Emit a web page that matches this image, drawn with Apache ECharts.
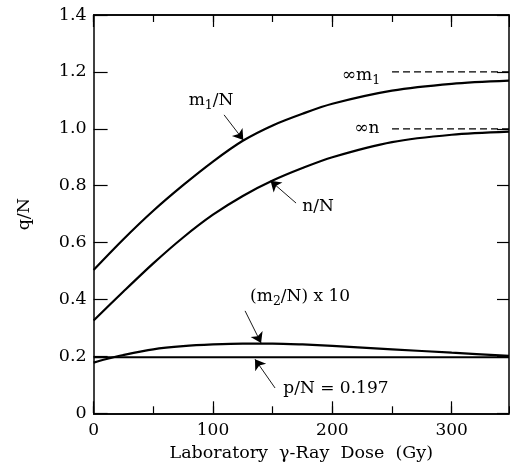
<!DOCTYPE html>
<html><head><meta charset="utf-8">
<script src="https://cdn.jsdelivr.net/npm/echarts@6/dist/echarts.min.js"></script>
<style>html,body{margin:0;padding:0;background:#fff}#c{width:510px;height:473px}</style>
</head><body><div id="c"></div>
<script>
// ---- data ----
const doses  = [0, 25, 50, 75, 100, 125, 150, 175, 200, 250, 300, 348];
const m1N    = [0.504, 0.612, 0.712, 0.802, 0.885, 0.958, 1.012, 1.053, 1.088, 1.134, 1.158, 1.169];
const nN     = [0.326, 0.428, 0.527, 0.618, 0.698, 0.764, 0.818, 0.862, 0.900, 0.953, 0.979, 0.990];
const m2Doses = [0, 10, 25, 50, 75, 100, 125, 150, 175, 200, 250, 300, 348];
const m2N10  = [0.178, 0.190, 0.205, 0.225, 0.236, 0.242, 0.245, 0.245, 0.242, 0.237, 0.225, 0.213, 0.202];
const pN = 0.197;
const pDoses = [0, 348];
const m1Inf = 1.2, nInf = 1.0;
const asymStart = 250, xMax = 348;
const xLabels = [0, 100, 200, 300];
const yLabels = [0, 0.2, 0.4, 0.6, 0.8, 1.0, 1.2, 1.4];

// annotations (data coordinates)
const textLabels = [
  {pos: [98.4, 1.098], text: '{a|m}{s|1}{a|/N}', align: 'center'},
  {pos: [188, 0.725], text: '{a|n/N}', align: 'center'},
  {pos: [173, 0.409], text: '{a|(m}{s|2}{a|/N) x 10}', align: 'center'},
  {pos: [203, 0.0855], text: '{a|p/N = 0.197}', align: 'center'},
  {pos: [240, 1.186], text: '{a|∞m}{s|1}', align: 'right'},
  {pos: [239.4, 1.002], text: '{a|∞n}', align: 'right'}
];
const arrows = [
  [[109.3, 1.049], [125.4, 0.961]],
  [[169.6, 0.739], [148.2, 0.817]],
  [[126.9, 0.360], [140.3, 0.247]],
  [[152.0, 0.089], [135.2, 0.190]]
];

const FONT = 'DejaVu Serif';
const INK = '#000';
const chart = echarts.init(document.getElementById('c'), null, {renderer: 'canvas'});

function xAxisDef(pos, interval, tickLen, withLabels, name) {
  return {
    type: 'value', position: pos, min: 0, max: xMax, interval: interval,
    name: name || '', nameLocation: 'middle', nameGap: 31,
    nameTextStyle: {fontFamily: FONT, fontSize: 17.5, color: INK},
    axisLine: {show: true, onZero: false, lineStyle: {color: INK, width: 1.5}},
    axisTick: {show: true, inside: true, length: tickLen, lineStyle: {color: INK, width: 1.2}},
    axisLabel: {show: withLabels, margin: 9, fontFamily: FONT, fontSize: 17, color: INK,
      formatter: v => (xLabels.indexOf(v) >= 0 ? String(v) : ''), showMaxLabel: false},
    splitLine: {show: false}
  };
}
function yAxisDef(pos, tickLen, withLabels, name) {
  return {
    type: 'value', position: pos, min: 0, max: 1.4, interval: 0.2,
    name: name || '', nameLocation: 'middle', nameGap: 60,
    nameTextStyle: {fontFamily: FONT, fontSize: 17.5, color: INK},
    axisLine: {show: true, onZero: false, lineStyle: {color: INK, width: 1.5}},
    axisTick: {show: true, inside: true, length: tickLen, lineStyle: {color: INK, width: 1.2}},
    axisLabel: {show: withLabels, margin: 7, fontFamily: FONT, fontSize: 17.5, color: INK,
      formatter: v => (Math.abs(v) < 1e-9 ? '0' : v.toFixed(1))},
    splitLine: {show: false}
  };
}

const curveStyle = {color: INK, width: 2.2};
function curve(xs, ys) {
  return {
    type: 'line', smooth: 0.3, showSymbol: false, silent: true,
    data: xs.map((x, i) => [x, ys[i]]), lineStyle: curveStyle, itemStyle: {color: INK},
    xAxisIndex: 0, yAxisIndex: 0, z: 3
  };
}

const option = {
  backgroundColor: '#fff',
  animation: false,
  grid: {left: 93.6, right: 1, top: 15, bottom: 59.7},
  xAxis: [
    xAxisDef('bottom', 100, 12, true, 'Laboratory  γ-Ray  Dose  (Gy)'),
    xAxisDef('bottom', 50, 7, false),
    xAxisDef('top', 100, 12, false),
    xAxisDef('top', 50, 7, false)
  ],
  yAxis: [
    yAxisDef('left', 14, true, 'q/N'),
    yAxisDef('right', 12, false)
  ],
  series: [
    curve(doses, m1N),
    curve(doses, nN),
    curve(m2Doses, m2N10),
    curve(pDoses, pDoses.map(() => pN)),
    {
      type: 'line', showSymbol: false, silent: true,
      data: [[asymStart, m1Inf], [xMax, m1Inf]],
      lineStyle: {color: INK, width: 1.3, type: [7, 4]}
    },
    {
      type: 'line', showSymbol: false, silent: true,
      data: [[asymStart, nInf], [xMax, nInf]],
      lineStyle: {color: INK, width: 1.3, type: [7, 4]}
    },
    {
      type: 'lines', coordinateSystem: 'cartesian2d', silent: true,
      symbol: ['none', 'arrow'], symbolSize: [5, 10],
      lineStyle: {color: INK, width: 0.9, opacity: 1},
      itemStyle: {color: INK},
      data: arrows.map(a => ({coords: a}))
    }
  ]
};
chart.setOption(option);

// text annotations placed through the chart's own coordinate conversion
const rich = {
  a: {fontFamily: FONT, fontSize: 17, fill: INK},
  s: {fontFamily: FONT, fontSize: 12.5, fill: INK, padding: [10, 0, 0, 0]}
};
chart.setOption({
  graphic: textLabels.map(t => {
    const p = chart.convertToPixel({xAxisIndex: 0, yAxisIndex: 0}, t.pos);
    return {
      type: 'text', x: p[0], y: p[1], silent: true, z: 10,
      style: {text: t.text, rich: rich, fill: INK, align: t.align, verticalAlign: 'middle',
              fontFamily: FONT, fontSize: 17}
    };
  })
});
</script></body></html>
